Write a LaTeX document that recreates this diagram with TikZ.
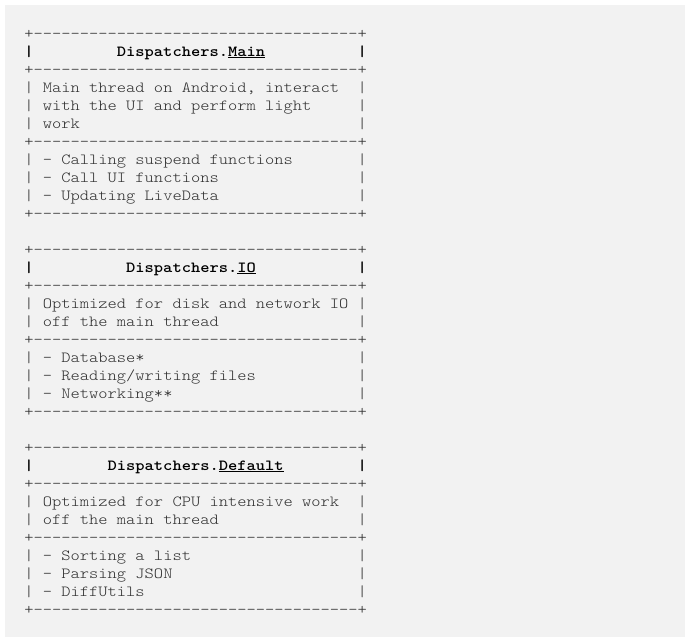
\documentclass[tikz,border=0pt]{standalone}
\usepackage{fontspec}
\newfontfamily\mono{lmmonolt10-regular.otf}[BoldFont=lmmonolt10-bold.otf, FakeStretch=1.14]
\definecolor{hintergrund}{HTML}{F2F2F2}
\definecolor{schrift}{HTML}{2E2E2E}
\tikzset{
  zeichen/.style={anchor=base west, inner sep=0pt, outer sep=0pt, text=schrift,
    font=\mono\fontsize{11.6pt}{13.5pt}\selectfont},
  titel/.style={zeichen, text=black, font=\mono\bfseries\fontsize{11.6pt}{13.5pt}\selectfont},
}
\begin{document}
\begin{tikzpicture}[x=6.942pt,y=-13.5pt]
  % Rahmen und Hintergrund
  \useasboundingbox (-18.3pt,28.5pt) rectangle (499.2pt,-453.75pt);
  \fill[hintergrund] (-14.55pt,24.75pt) rectangle (495.45pt,-449.25pt);
  % die Trennlinien
  \foreach \z in {0,2,6,10,12,14,17,21,23,25,28,32}
    \node[zeichen] (rand\z) at (0,\z) {+-----------------------------------+};
  % die senkrechten Striche
  \foreach \z in {3,4,5,7,8,9,15,16,18,19,20,26,27,29,30,31} {
    \node[zeichen] (links\z) at (0,\z) {|};
    \node[zeichen] (rechts\z) at (36,\z) {|};
  }
  \foreach \z in {1,13,24} {
    \node[titel] (links\z) at (0,\z) {|};
    \node[titel] (rechts\z) at (36,\z) {|};
  }
  % Titelzeilen
  \node[titel] (titel1) at (10,1) {Dispatchers.};
  \node[titel] (main) at (titel1.base east) {Main};
  \node[titel] (titel13) at (11,13) {Dispatchers.};
  \node[titel] (io) at (titel13.base east) {IO};
  \node[titel] (titel24) at (9,24) {Dispatchers.};
  \node[titel] (default) at (titel24.base east) {Default};
  \foreach \n in {main,io,default}
    \draw[line width=0.75pt] ([yshift=-0.9pt]\n.base west) -- ([yshift=-0.9pt]\n.base east);
  % Inhalt der Kaesten
  \foreach \z/\t in {3/{Main thread on Android, interact}, 4/{with the UI and perform light},
      5/{work}, 7/{- Calling suspend functions}, 8/{- Call UI functions},
      9/{- Updating LiveData}, 15/{Optimized for disk and network IO},
      16/{off the main thread}, 18/{- Database*}, 19/{- Reading/writing files},
      20/{- Networking**}, 26/{Optimized for CPU intensive work},
      27/{off the main thread}, 29/{- Sorting a list}, 30/{- Parsing JSON},
      31/{- DiffUtils}}
    \node[zeichen] (text\z) at (2,\z) {\t};
\end{tikzpicture}
\end{document}
